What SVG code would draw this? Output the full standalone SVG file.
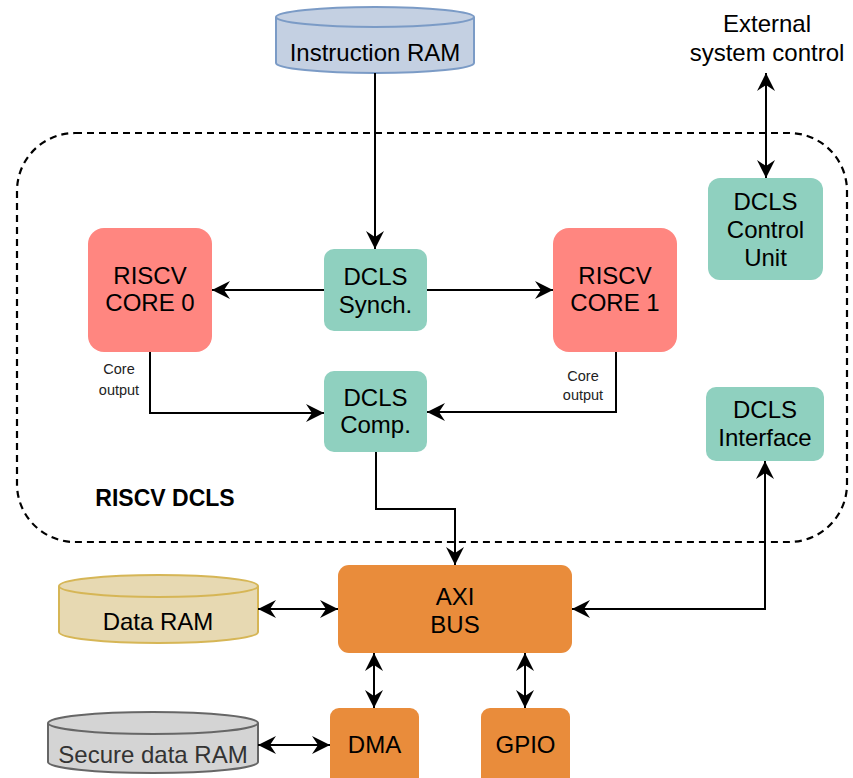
<svg xmlns="http://www.w3.org/2000/svg" width="853" height="778" viewBox="0 0 853 778">
  <style>
    .lbl { font-family: "Liberation Sans", Arial, sans-serif; font-size: 24px; fill: #000; text-anchor: middle; }
    .small { font-family: "Liberation Sans", Arial, sans-serif; font-size: 14.5px; fill: #222; text-anchor: middle; }
    .title { font-family: "Liberation Sans", Arial, sans-serif; font-size: 23px; font-weight: bold; fill: #000; text-anchor: middle; }
    .teal { fill: #8fd0bf; }
    .core { fill: #ff8680; }
    .orange { fill: #e98c3b; }
    .wire { fill: none; stroke: #000; stroke-width: 2; }
    .one { marker-end: url(#arrow); }
    .two { marker-start: url(#arrow); marker-end: url(#arrow); }
  </style>
  <defs>
    <marker id="arrow" viewBox="0 0 19 20" refX="18" refY="10" markerWidth="19" markerHeight="20" markerUnits="userSpaceOnUse" orient="auto-start-reverse">
      <path d="M0,1 L18,10 L0,19 L6,10 Z" fill="#000"/>
    </marker>
  </defs>

  <rect width="853" height="778" fill="#fff"/>

  <!-- dashed boundary of the lockstep subsystem -->
  <g id="dcls-boundary">
    <rect x="17" y="133" width="830" height="409" rx="58" fill="none" stroke="#000" stroke-width="2.2" stroke-dasharray="7 5"/>
    <text class="title" x="165" y="506">RISCV DCLS</text>
  </g>

  <g id="instruction-ram">
    <path d="M276,17 A99,10 0 0 1 474,17 L474,63 A99,10 0 0 1 276,63 Z" fill="#c4d0e2" stroke="#7b9bc6" stroke-width="2"/>
    <path d="M276,17 A99,10 0 0 0 474,17" fill="none" stroke="#7b9bc6" stroke-width="2"/>
    <text class="lbl" x="375" y="61">Instruction RAM</text>
  </g>

  <g id="external-control">
    <text class="lbl" x="767" y="32">External</text>
    <text class="lbl" x="767" y="61">system control</text>
  </g>

  <g id="dcls-synch">
    <rect class="teal" x="324" y="249" width="103" height="82" rx="10"/>
    <text class="lbl" x="375.5" y="285">DCLS</text>
    <text class="lbl" x="375.5" y="313">Synch.</text>
  </g>

  <g id="core0">
    <rect class="core" x="88" y="228" width="124" height="124" rx="16"/>
    <text class="lbl" x="150" y="284">RISCV</text>
    <text class="lbl" x="150" y="311">CORE 0</text>
  </g>

  <g id="core1">
    <rect class="core" x="553" y="228" width="124" height="124" rx="16"/>
    <text class="lbl" x="615" y="284">RISCV</text>
    <text class="lbl" x="615" y="311">CORE 1</text>
  </g>

  <g id="dcls-comp">
    <rect class="teal" x="324" y="371" width="103" height="81" rx="10"/>
    <text class="lbl" x="375.5" y="406">DCLS</text>
    <text class="lbl" x="375.5" y="433">Comp.</text>
  </g>

  <g id="dcls-control-unit">
    <rect class="teal" x="708" y="178" width="115" height="102" rx="12"/>
    <text class="lbl" x="765.5" y="210">DCLS</text>
    <text class="lbl" x="765.5" y="238">Control</text>
    <text class="lbl" x="765.5" y="266">Unit</text>
  </g>

  <g id="dcls-interface">
    <rect class="teal" x="706" y="387" width="118" height="74" rx="10"/>
    <text class="lbl" x="765" y="418">DCLS</text>
    <text class="lbl" x="765" y="446">Interface</text>
  </g>

  <g id="axi-bus">
    <rect class="orange" x="338" y="565" width="234" height="88" rx="11"/>
    <text class="lbl" x="455" y="605">AXI</text>
    <text class="lbl" x="455" y="633">BUS</text>
  </g>

  <g id="data-ram">
    <path d="M59,586 A99.5,11 0 0 1 258,586 L258,632 A99.5,11 0 0 1 59,632 Z" fill="#e7d9b2" stroke="#d6b656" stroke-width="2"/>
    <path d="M59,586 A99.5,11 0 0 0 258,586" fill="none" stroke="#d6b656" stroke-width="2"/>
    <text class="lbl" x="158" y="630">Data RAM</text>
  </g>

  <g id="secure-data-ram">
    <path d="M48,723 A105,11 0 0 1 258,723 L258,762 A105,11 0 0 1 48,762 Z" fill="#d4d4d4" stroke="#666" stroke-width="2"/>
    <path d="M48,723 A105,11 0 0 0 258,723" fill="none" stroke="#666" stroke-width="2"/>
    <text class="lbl" x="153" y="763" style="fill:#333">Secure data RAM</text>
  </g>

  <g id="dma">
    <rect class="orange" x="330" y="708" width="89" height="90" rx="9"/>
    <text class="lbl" x="374.5" y="753">DMA</text>
  </g>

  <g id="gpio">
    <rect class="orange" x="481" y="708" width="89" height="90" rx="9"/>
    <text class="lbl" x="525.5" y="753">GPIO</text>
  </g>

  <!-- connectors -->
  <g id="connectors">
    <path class="wire one" d="M375,73 V249"/>
    <path class="wire one" d="M324,290 H212"/>
    <path class="wire one" d="M427,290 H553"/>
    <path class="wire one" d="M150,352 V413 H324"/>
    <path class="wire one" d="M616,352 V412 H427"/>
    <path class="wire one" d="M376,452 V509 H455 V565"/>
    <path class="wire two" d="M766,73 V178"/>
    <path class="wire two" d="M572,609 H765 V461"/>
    <path class="wire two" d="M258,609 H338"/>
    <path class="wire two" d="M374,653 V708"/>
    <path class="wire two" d="M525,653 V708"/>
    <path class="wire two" d="M258,745 H330"/>
    <text class="small" x="119" y="374">Core</text>
    <text class="small" x="119" y="395">output</text>
    <text class="small" x="583" y="381">Core</text>
    <text class="small" x="583" y="400">output</text>
  </g>
</svg>
